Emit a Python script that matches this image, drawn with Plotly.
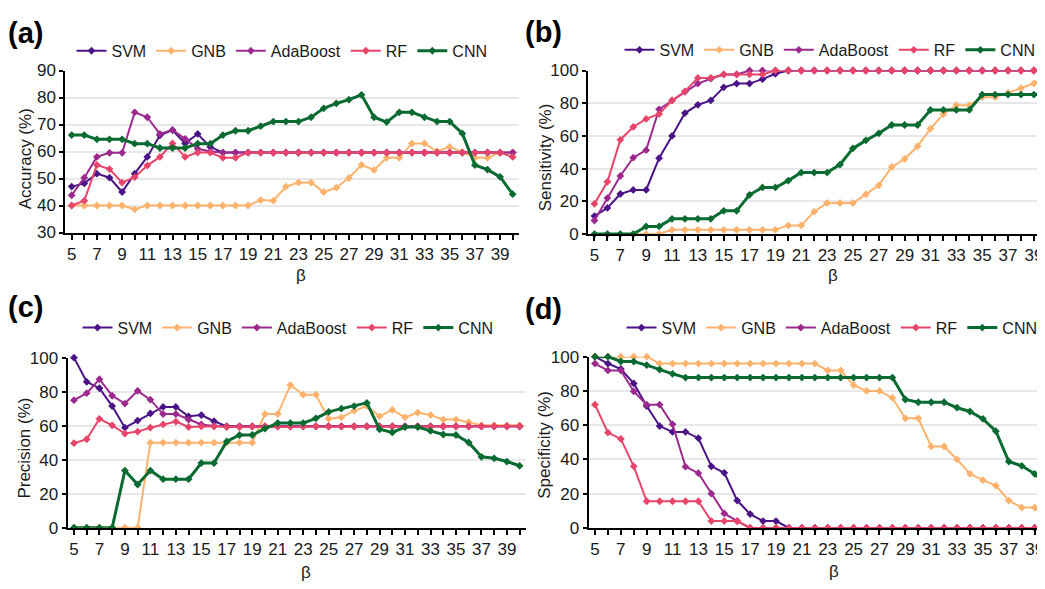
import plotly.graph_objects as go

W, H = 1045, 589
OFF = 8  # page body margin: figure origin sits at (8, 8) in the window
FONT = "Liberation Sans, Arial, sans-serif"

beta = [5, 6, 7, 8, 9, 10, 11, 12, 13, 14, 15, 16, 17, 18, 19, 20, 21, 22, 23, 24,
        25, 26, 27, 28, 29, 30, 31, 32, 33, 34, 35, 36, 37, 38, 39, 40]
beta_labels = ["5", "", "7", "", "9", "", "11", "", "13", "", "15", "", "17", "", "19", "",
               "21", "", "23", "", "25", "", "27", "", "29", "", "31", "", "33", "", "35", "",
               "37", "", "39", ""]
models = ["SVM", "GNB", "AdaBoost", "RF", "CNN"]

# (a) Accuracy
acc_svm = [47.0, 48.2, 51.8, 50.3, 45.0, 51.8, 58.0, 66.0, 67.9, 63.0, 66.5, 61.7, 59.6, 59.6, 59.6,
           59.6, 59.6, 59.6, 59.6, 59.6, 59.6, 59.6, 59.6, 59.6, 59.6, 59.6, 59.6, 59.6, 59.6, 59.6,
           59.6, 59.6, 59.6, 59.6, 59.6, 59.6]
acc_gnb = [40.0, 40.0, 40.0, 40.0, 40.0, 38.6, 40.0, 40.0, 40.0, 40.0, 40.0, 40.0, 40.0, 40.0, 40.0,
           42.0, 41.8, 47.0, 48.5, 48.5, 45.0, 46.6, 50.2, 55.0, 53.2, 57.7, 57.7, 63.0, 63.0, 60.0,
           61.7, 59.8, 57.7, 57.7, 59.6, 59.6]
acc_ada = [43.8, 50.3, 58.0, 59.5, 59.5, 74.5, 72.7, 66.5, 68.0, 64.7, 61.0, 60.0, 59.6, 59.6, 59.6,
           59.6, 59.6, 59.6, 59.6, 59.6, 59.6, 59.6, 59.6, 59.6, 59.6, 59.6, 59.6, 59.6, 59.6, 59.6,
           59.6, 59.6, 59.6, 59.6, 59.6, 59.6]
acc_rf = [40.0, 41.8, 55.0, 53.5, 48.5, 50.5, 54.8, 58.0, 63.0, 58.0, 59.6, 59.6, 57.7, 57.7, 59.6,
          59.6, 59.6, 59.6, 59.6, 59.6, 59.6, 59.6, 59.6, 59.6, 59.6, 59.6, 59.6, 59.6, 59.6, 59.6,
          59.6, 59.6, 59.6, 59.6, 59.6, 58.0]
acc_cnn = [66.1, 66.1, 64.5, 64.5, 64.5, 62.9, 62.9, 61.3, 61.3, 61.3, 62.9, 62.9, 66.1, 67.7, 67.7,
           69.4, 71.1, 71.1, 71.1, 72.7, 76.0, 77.8, 79.2, 81.0, 72.7, 70.9, 74.5, 74.5, 72.7, 71.1,
           71.1, 66.7, 55.0, 53.3, 50.6, 44.2]

# (b) Sensitivity
sen_svm = [11.0, 16.0, 24.5, 27.0, 27.0, 46.4, 60.0, 74.0, 79.0, 81.7, 89.7, 92.0, 92.0, 94.7, 98.0,
           100, 100, 100, 100, 100, 100, 100, 100, 100, 100, 100, 100, 100, 100, 100,
           100, 100, 100, 100, 100, 100]
sen_gnb = [0, 0, 0, 0, 0, 0, 2.6, 2.6, 2.6, 2.6, 2.6, 2.6, 2.6, 2.6, 2.6,
           5.3, 5.3, 13.7, 19.0, 19.0, 19.0, 24.3, 29.8, 41.0, 45.9, 53.7, 64.5, 73.3, 78.8, 78.8,
           83.7, 83.7, 86.3, 89.2, 92.2, 97.0]
sen_ada = [8.3, 22.0, 35.5, 46.7, 51.3, 76.3, 81.7, 87.0, 92.0, 95.0, 97.6, 97.6, 100, 100, 100,
           100, 100, 100, 100, 100, 100, 100, 100, 100, 100, 100, 100, 100, 100, 100,
           100, 100, 100, 100, 100, 100]
sen_rf = [18.5, 32.0, 57.6, 65.5, 70.4, 73.4, 81.7, 87.2, 95.5, 95.5, 97.6, 97.6, 97.6, 97.6, 100,
          100, 100, 100, 100, 100, 100, 100, 100, 100, 100, 100, 100, 100, 100, 100,
          100, 100, 100, 100, 100, 100]
sen_cnn = [0, 0, 0, 0, 4.7, 4.7, 9.3, 9.3, 9.3, 9.3, 14.2, 14.2, 24.0, 28.5, 28.5,
           32.7, 37.6, 37.6, 37.6, 42.5, 52.4, 57.3, 61.6, 66.7, 66.7, 66.7, 75.9, 75.9, 75.9, 75.9,
           85.3, 85.3, 85.3, 85.3, 85.3, 85.3]

# (c) Precision
pre_svm = [100, 85.8, 82.0, 71.5, 58.8, 63.0, 67.2, 71.0, 71.0, 65.5, 66.2, 62.6, 59.6, 59.6, 59.6,
           59.6, 59.6, 59.6, 59.6, 59.6, 59.6, 59.6, 59.6, 59.6, 59.6, 59.6, 59.6, 59.6, 59.6, 59.6,
           59.6, 59.6, 59.6, 59.6, 59.6, 59.6]
pre_gnb = [0, 0, 0, 0, 0, 0, 50, 50, 50, 50, 50, 50, 50, 50, 50,
           66.8, 66.8, 83.9, 78.2, 78.2, 64.0, 64.9, 68.7, 71.5, 65.5, 69.3, 64.9, 67.7, 66.2, 63.6,
           63.6, 62.0, 60.2, 60.2, 60.2, 60.2]
pre_ada = [75.0, 79.1, 87.3, 77.6, 73.0, 80.5, 75.3, 66.8, 66.8, 63.6, 60.7, 59.8, 59.6, 59.6, 59.6,
           59.6, 59.6, 59.6, 59.6, 59.6, 59.6, 59.6, 59.6, 59.6, 59.6, 59.6, 59.6, 59.6, 59.6, 59.6,
           59.6, 59.6, 59.6, 59.6, 59.6, 59.6]
pre_rf = [49.7, 52.0, 64.0, 60.2, 55.4, 56.5, 58.8, 60.7, 62.4, 59.2, 59.6, 59.6, 59.2, 59.2, 59.6,
          59.6, 59.6, 59.6, 59.6, 59.6, 59.6, 59.6, 59.6, 59.6, 59.6, 59.6, 59.6, 59.6, 59.6, 59.6,
          59.6, 59.6, 59.6, 59.6, 59.6, 59.6]
pre_cnn = [0, 0, 0, 0, 33.6, 25.4, 33.6, 28.5, 28.5, 28.5, 38.0, 38.0, 50.7, 54.5, 54.5,
           58.3, 61.5, 61.5, 61.5, 64.3, 68.1, 70.0, 71.5, 73.4, 57.9, 56.0, 59.2, 59.2, 56.9, 54.8,
           54.5, 50.1, 41.7, 40.8, 38.9, 36.4]

# (d) Specificity
spe_svm = [100, 96.0, 92.8, 84.4, 71.2, 59.5, 56.1, 56.1, 52.4, 36.0, 32.2, 16.0, 8.1, 4.0, 4.0,
           0, 0, 0, 0, 0, 0, 0, 0, 0, 0, 0, 0, 0, 0, 0, 0, 0, 0, 0, 0, 0]
spe_gnb = [100, 100, 100, 100, 100, 96, 96, 96, 96, 96, 96, 96, 96, 96, 96, 96, 96, 96,
           92.0, 92.0, 83.4, 80.0, 80.0, 75.9, 64.0, 64.0, 47.6, 47.6, 40.0, 31.6, 27.9, 24.7,
           16.0, 11.9, 11.9, 4.0]
spe_ada = [96.0, 92.0, 92.0, 79.7, 72.0, 72.0, 60.5, 35.8, 32.0, 20.0, 8.5, 4.0, 0,
           0, 0, 0, 0, 0, 0, 0, 0, 0, 0, 0, 0, 0, 0, 0, 0, 0, 0, 0, 0, 0, 0, 0]
spe_rf = [72.0, 55.7, 52.0, 36.0, 15.6, 15.6, 15.6, 15.6, 15.6, 4.0, 4.0, 4.0, 0,
          0, 0, 0, 0, 0, 0, 0, 0, 0, 0, 0, 0, 0, 0, 0, 0, 0, 0, 0, 0, 0, 0, 0]
spe_cnn = [100, 100, 97.2, 97.2, 95.1, 92.5, 90.0, 87.8, 87.8, 87.8, 87.8, 87.8, 87.8, 87.8, 87.8,
           87.8, 87.8, 87.8, 87.8, 87.8, 87.8, 87.8, 87.8, 87.8, 75.0, 73.4, 73.4, 73.4, 70.2, 68.0,
           63.7, 56.5, 38.8, 36.3, 31.6, 24.7]

colors = {"SVM": "#4a1486", "GNB": "#fdb26e", "AdaBoost": "#9c2a8e",
          "RF": "#e8456b", "CNN": "#0a6b32"}
widths = {"SVM": 2, "GNB": 2, "AdaBoost": 2, "RF": 2, "CNN": 3}


def fx(X):
    return (X - OFF) / W


def fy(Y):
    return 1 - (Y - OFF) / H


# all positions below are window pixel coordinates
panels = [
    dict(series=[acc_svm, acc_gnb, acc_ada, acc_rf, acc_cnn], ytitle="Accuracy (%)",
         yr=[30, 90], ytick=[30, 40, 50, 60, 70, 80, 90], xr=[4.5, 40.5],
         px=(65.4, 519), py=(63.3, 230.7), leg=(282, 43), lab=(8, 25),
         yt=(25, 155), bt=(301, 275)),
    dict(series=[sen_svm, sen_gnb, sen_ada, sen_rf, sen_cnn], ytitle="Sensitivity (%)",
         yr=[0, 100], ytick=[0, 20, 40, 60, 80, 100], xr=[4.5, 39.86],
         px=(588, 1045), py=(63.3, 232.3), leg=(830, 42), lab=(525, 24),
         yt=(545, 153), bt=(833, 275)),
    dict(series=[pre_svm, pre_gnb, pre_ada, pre_rf, pre_cnn], ytitle="Precision (%)",
         yr=[0, 100], ytick=[0, 20, 40, 60, 80, 100], xr=[4.5, 40.5],
         px=(67.6, 526), py=(360, 535.7), leg=(288, 329), lab=(8, 308),
         yt=(25, 454), bt=(306, 582)),
    dict(series=[spe_svm, spe_gnb, spe_ada, spe_rf, spe_cnn], ytitle="Specificity (%)",
         yr=[0, 100], ytick=[0, 20, 40, 60, 80, 100], xr=[4.5, 39.8],
         px=(588.5, 1045), py=(359, 536), leg=(832, 329), lab=(525, 310),
         yt=(545, 450), bt=(834, 581)),
]

fig = go.Figure()
annotations = []
layout = dict(width=W, height=H, margin=dict(l=0, r=0, t=0, b=0),
              paper_bgcolor="white", plot_bgcolor="white",
              font=dict(family=FONT, size=17, color="#1a1a1a"))

for i, p in enumerate(panels):
    n = "" if i == 0 else str(i + 1)
    xa, ya = "x" + n, "y" + n
    legname = "legend" + n
    for name, vals in zip(models, p["series"]):
        fig.add_trace(go.Scatter(
            x=beta, y=vals, name=name, mode="lines+markers",
            xaxis=xa, yaxis=ya, legend=legname, cliponaxis=False,
            line=dict(color=colors[name], width=widths[name]),
            marker=dict(symbol="diamond", size=6, color=colors[name])))
    layout["xaxis" + n] = dict(
        domain=[fx(p["px"][0]), fx(p["px"][1])], anchor=ya, range=p["xr"],
        tickmode="array", tickvals=beta, ticktext=beta_labels,
        showline=True, linecolor="black", linewidth=2, showgrid=False, zeroline=False,
        ticks="outside", ticklen=5, tickwidth=1.5, tickcolor="black",
        tickfont=dict(size=17, family=FONT, color="#1a1a1a"), tickangle=0)
    layout["yaxis" + n] = dict(
        domain=[fy(p["py"][1]), fy(p["py"][0])], anchor=xa, range=p["yr"],
        tickmode="array", tickvals=p["ytick"],
        showline=True, linecolor="black", linewidth=2, zeroline=False,
        showgrid=True, gridcolor="#e8e8e8", gridwidth=1.5,
        ticks="outside", ticklen=4, tickwidth=1.5, tickcolor="black",
        tickfont=dict(size=17, family=FONT, color="#1a1a1a"))
    layout[legname] = dict(
        orientation="h", x=fx(p["leg"][0]), y=fy(p["leg"][1]),
        xanchor="center", yanchor="middle", bgcolor="rgba(0,0,0,0)",
        font=dict(size=16, family=FONT, color="#1a1a1a"), itemwidth=30,
        tracegroupgap=0)
    annotations.append(dict(text="<b>(" + "abcd"[i] + ")</b>", x=max(fx(p["lab"][0]), 0),
                            y=fy(p["lab"][1]), xref="paper", yref="paper",
                            showarrow=False, font=dict(size=29, family=FONT, color="black"),
                            xanchor="left", yanchor="middle", xshift=-2))
    annotations.append(dict(text=p["ytitle"], x=fx(p["yt"][0]), y=fy(p["yt"][1]),
                            xref="paper", yref="paper", showarrow=False, textangle=-90,
                            font=dict(size=17, family=FONT, color="#1a1a1a"),
                            xanchor="center", yanchor="middle"))
    annotations.append(dict(text="β", x=fx(p["bt"][0]), y=fy(p["bt"][1]),
                            xref="paper", yref="paper", showarrow=False,
                            font=dict(size=17, family=FONT, color="#1a1a1a"),
                            xanchor="center", yanchor="middle"))

layout["annotations"] = annotations
fig.update_layout(**layout)
fig.write_html("out.html")
